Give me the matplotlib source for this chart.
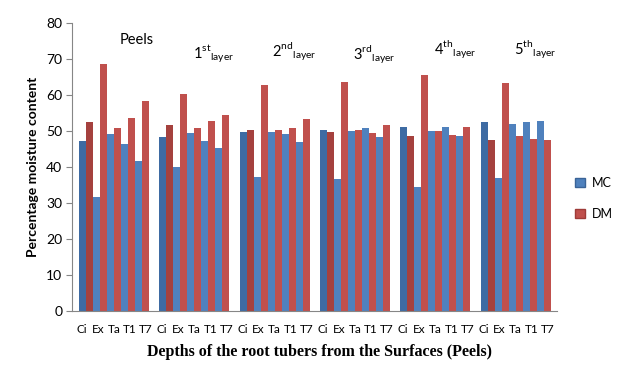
"""Moisture content (MC) and dry matter (DM) by depth of root tuber."""

import matplotlib
matplotlib.use("Agg")
import matplotlib.pyplot as plt
import numpy as np
from matplotlib.patches import Patch


GROUPS = ["Peels", "1st", "2nd", "3rd", "4th", "5th"]
CATEGORIES = ["Ci", "Ex", "Ta", "T1", "T7"]

MC = [
    [47.4, 31.6, 49.2, 46.4, 41.8],
    [48.5, 40.0, 49.4, 47.2, 45.4],
    [49.8, 37.2, 49.7, 49.2, 46.9],
    [50.5, 36.7, 50.0, 50.8, 48.3],
    [51.3, 34.6, 50.1, 51.2, 48.7],
    [52.6, 36.9, 52.0, 52.5, 52.8],
]

DM = [
    [52.6, 68.7, 50.8, 53.6, 58.4],
    [51.7, 60.3, 50.8, 53.0, 54.6],
    [50.5, 62.8, 50.5, 50.8, 53.3],
    [49.8, 63.6, 50.3, 49.4, 51.7],
    [48.7, 65.6, 50.1, 48.9, 51.3],
    [47.7, 63.3, 48.7, 47.8, 47.6],
]

BLUE = "#4F81BD"
RED = "#C0504D"
BLUE_DARK = "#3E6BA3"
RED_DARK = "#A5413E"
AXIS_GREY = "#868686"

PITCH = 11.5


def main() -> None:
    plt.rcParams["font.family"] = ["Lato", "DejaVu Sans"]
    plt.rcParams["mathtext.fontset"] = "custom"
    plt.rcParams["mathtext.rm"] = "Lato"

    fig = plt.figure(figsize=(6.24, 3.66), dpi=100)
    ax = fig.add_axes([0.1154, 0.150, 0.777, 0.786])

    mc = np.array(MC)
    dm = np.array(DM)
    n_cat = len(CATEGORIES)

    tick_pos = []
    tick_lab = []
    for g in range(len(GROUPS)):
        start = g * PITCH
        for c in range(n_cat):
            x_mc = start + 2 * c
            x_dm = x_mc + 1
            ax.bar(x_mc, mc[g, c], width=1.0, align="edge",
                   color=BLUE_DARK if c == 0 else BLUE, linewidth=0)
            ax.bar(x_dm, dm[g, c], width=1.0, align="edge",
                   color=RED_DARK if c == 0 else RED, linewidth=0)
        slot_start = start - 0.75
        slot = PITCH / n_cat
        for c in range(n_cat):
            tick_pos.append(slot_start + (c + 0.5) * slot)
            tick_lab.append(CATEGORIES[c])

    # group headings
    ax.text(PITCH * 0 + 5 + 3.2, 75.3, "Peels", fontsize=10.5,
            ha="center", va="center")
    heading_y = [71.6, 72.0, 71.3, 72.6, 72.6]
    sups = {"1st": "st", "2nd": "nd", "3rd": "rd", "4th": "th", "5th": "th"}
    for g, name in enumerate(GROUPS[1:], start=1):
        label = (name[0] + r"$^{\mathrm{" + sups[name] + r"}}$"
                 + r"$_{\mathrm{layer}}$")
        ax.text(g * PITCH + 5 + 2.8, heading_y[g - 1], label,
                fontsize=10.5, ha="center", va="center")

    ax.set_xlim(-1.0, 5 * PITCH + 10.9)
    ax.set_ylim(0, 80)
    ax.set_yticks(range(0, 81, 10))
    ax.set_xticks(tick_pos)
    ax.set_xticklabels(tick_lab, fontsize=8.5)
    ax.tick_params(axis="x", length=0, pad=9)
    ax.tick_params(axis="y", length=4, color=AXIS_GREY, labelsize=10,
                   pad=3)

    for side in ["top", "right"]:
        ax.spines[side].set_visible(False)
    for side in ["left", "bottom"]:
        ax.spines[side].set_color(AXIS_GREY)

    ax.set_ylabel("Percentage moisture content", fontsize=10,
                  fontweight="bold", labelpad=5)
    ax.set_xlabel("Depths of the root tubers from the Surfaces (Peels)",
                  fontsize=11.5, fontweight="bold",
                  family=["Liberation Serif", "DejaVu Serif"])
    ax.xaxis.set_label_coords(0.511, -0.115)

    handles = [
        Patch(facecolor=BLUE, edgecolor="#3A6397", label="MC"),
        Patch(facecolor=RED, edgecolor="#9E3B38", label="DM"),
    ]
    fig.legend(handles=handles, loc="center left",
               bbox_to_anchor=(0.922, 0.458), frameon=False, fontsize=9,
               handlelength=0.8, handleheight=0.8, labelspacing=1.5,
               handletextpad=0.5, borderaxespad=0, borderpad=0)

    fig.savefig("out.png", dpi=100)
    plt.close(fig)


if __name__ == "__main__":
    main()
